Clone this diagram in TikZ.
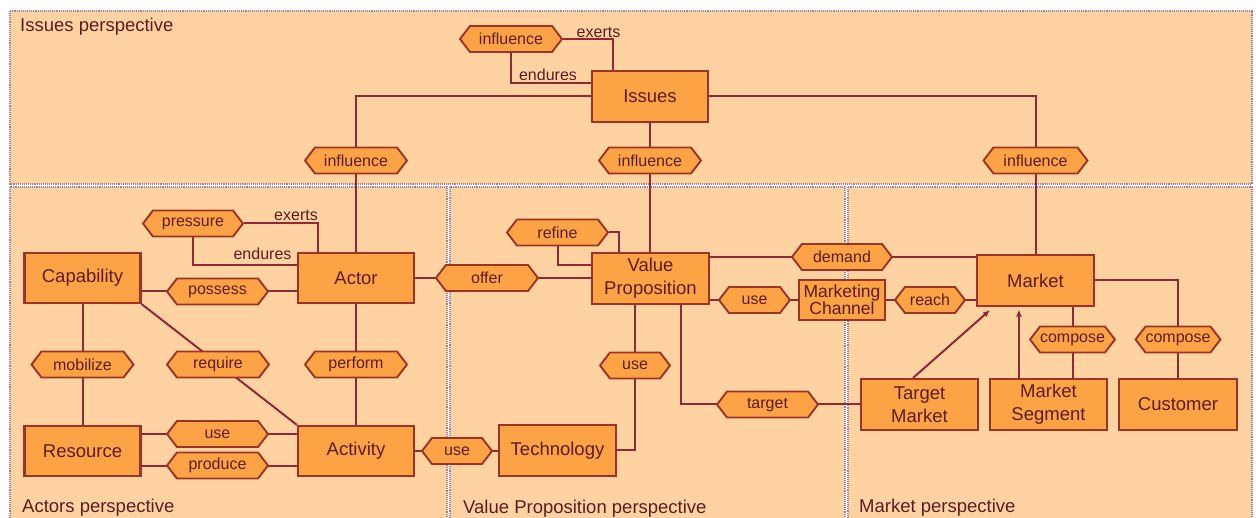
\documentclass[tikz,border=0pt]{standalone}
\usepackage{fontspec}
\setmainfont{Liberation Sans}
\usetikzlibrary{shapes.symbols,arrows.meta}
\definecolor{pane}{HTML}{FED3A1}
\definecolor{boxfill}{HTML}{FCA445}
\definecolor{boxline}{HTML}{9C3328}
\definecolor{wire}{HTML}{8C2A38}
\definecolor{ink}{HTML}{5E1B24}
\definecolor{frameline}{HTML}{A07C96}
\pgfdeclarelayer{panes}
\pgfdeclarelayer{wires}
\pgfsetlayers{panes,wires,main}
\tikzset{
  entity/.style={draw=boxline, fill=boxfill, line width=2.1pt, rectangle,
    minimum width=116pt, minimum height=50pt, inner sep=0pt, text=ink,
    font=\fontsize{18.5}{23}\selectfont, align=center},
  relation/.style={draw=boxline, fill=boxfill, line width=1.9pt, shape=signal,
    signal to=west and east, signal pointer angle=105,
    minimum width=#1, minimum height=26pt, inner sep=0pt, text=ink,
    font=\fontsize{16}{19}\selectfont},
  relation/.default=101pt,
  role/.style={text=ink, font=\fontsize{16}{19}\selectfont, inner sep=0pt, anchor=base},
  panetitle/.style={text=ink, font=\fontsize{18.5}{22}\selectfont, inner sep=0pt, anchor=base west},
  pane/.style={fill=pane, draw=frameline, line width=1.1pt, densely dotted},
  link/.style={draw=wire, line width=2pt},
}
\begin{document}
\begin{tikzpicture}[x=1pt,y=-1pt]
\useasboundingbox (0,0) rectangle (1256,518);

% perspective panes
\begin{pgfonlayer}{panes}
  \fill[white] (0,0) rectangle (1256,518);
  \path[pane] (10,11) rectangle (1252,184);
  \path[pane] (10,187) rectangle (447,525);
  \path[pane] (450,187) rectangle (845,525);
  \path[pane] (848,187) rectangle (1252,525);
\end{pgfonlayer}
\node[panetitle] (tIssues) at (20,32) {Issues perspective};
\node[panetitle] (tActors) at (22,512) {Actors perspective};
\node[panetitle] (tValue) at (463,513) {Value Proposition perspective};
\node[panetitle] (tMarket) at (859,512) {Market perspective};

% entities
\node[entity, minimum height=51pt] (issues) at (650,96.5) {Issues};
\node[entity] (actor) at (356,278) {Actor};
\node[entity] (cap) at (82.5,278) {Capability};
\node[entity] (res) at (82.5,451) {Resource};
\node[entity] (act) at (356,451) {Activity};
\node[entity, minimum width=117pt, minimum height=51pt] (tech) at (557.5,450.5) {Technology};
\node[entity, minimum width=117pt, minimum height=51pt] (vp) at (650.5,278.5) {Value\\Proposition};
\node[entity, minimum width=86pt, minimum height=40pt, font=\fontsize{17.5}{17}\selectfont] (mc) at (842,300) {Marketing\\Channel};
\node[entity, minimum width=117pt, minimum height=51pt] (market) at (1035.5,280.5) {Market};
\node[entity, minimum width=117pt, minimum height=51pt] (tm) at (919.5,404.5) {Target\\Market};
\node[entity, minimum width=117pt, minimum height=51pt] (ms) at (1048.5,404.5) {Market\\Segment};
\node[entity, minimum width=118pt, minimum height=51pt] (cust) at (1178,404.5) {Customer};

% relations
\node[relation=102pt] (infTop) at (511,39) {influence};
\node[relation=102pt] (infL) at (356,160.5) {influence};
\node[relation=102pt] (infM) at (650,160.5) {influence};
\node[relation=104pt] (infR) at (1035.5,160.5) {influence};
\node[relation=100pt] (pressure) at (193,223.5) {pressure};
\node[relation] (possess) at (217.5,291.5) {possess};
\node[relation=102pt] (mobilize) at (82.5,364.5) {mobilize};
\node[relation=102pt] (require) at (218,364.5) {require};
\node[relation=102pt] (perform) at (356,364.5) {perform};
\node[relation] (useA) at (217.5,434) {use};
\node[relation] (produce) at (217.5,465.5) {produce};
\node[relation=102pt] (offer) at (487,278) {offer};
\node[relation=70pt] (useT) at (457,451) {use};
\node[relation] (refine) at (557.5,232.5) {refine};
\node[relation=70pt] (useV) at (635,365.5) {use};
\node[relation] (target) at (767.5,404.5) {target};
\node[relation=100pt] (demand) at (842,257) {demand};
\node[relation=71pt] (useM) at (754.5,300) {use};
\node[relation=70pt] (reach) at (930,300) {reach};
\node[relation=83pt] (comp1) at (1072.5,339.5) {compose};
\node[relation=83pt] (comp2) at (1178,339.5) {compose};

% role names
\node[role] (rExIss) at (598.5,37.5) {exerts};
\node[role] (rEnIss) at (548,80.5) {endures};
\node[role] (rExAct) at (296,220.5) {exerts};
\node[role] (rEnAct) at (262.5,260) {endures};

% connectors
\begin{pgfonlayer}{wires}
  \draw[link] (infTop.east) -| ([xshift=-37pt]issues.north);
  \draw[link] (infTop.south) |- ([yshift=13.5pt]issues.west);
  \draw[link] (issues.west) -| (actor.north);
  \draw[link] (issues.south) -- (issues.south |- vp.north);
  \draw[link] (issues.east) -| (market.north);

  \draw[link] (pressure.east) -| ([xshift=-38pt]actor.north);
  \draw[link] (pressure.south) |- ([yshift=13pt]actor.west);
  \draw[link] ([yshift=-13pt]cap.east) -- ([yshift=-13pt]actor.west);
  \draw[link] (cap.south) -- (res.north);
  \draw[link] (cap.south east) -- (act.north west);
  \draw[link] (actor.south) -- (act.north);
  \draw[link] ([yshift=17pt]res.east) -- ([yshift=17pt]act.west);
  \draw[link] ([yshift=-14.5pt]res.east) -- ([yshift=-14.5pt]act.west);
  \draw[link] (actor.east) -- (actor.east -| vp.west);
  \draw[link] (act.east) -- (act.east -| tech.west);

  \draw[link] (refine.east) -| ([xshift=-31.5pt]vp.north);
  \draw[link] (refine.south) |- ([yshift=13.5pt]vp.west);
  \draw[link] ([xshift=-15.5pt]vp.south) |- (tech.east);
  \draw[link] ([xshift=30.5pt]vp.south) |- (tm.west);
  \draw[link] ([yshift=21.5pt]vp.east) -- ([yshift=21.5pt]vp.east -| market.west);
  \draw[link] (mc.west -| vp.east) -- (mc.west);
  \draw[link] (mc.east) -- (mc.east -| market.west);

  \draw[link] (market.east) -| (cust.north);
  \draw[link] (comp1 |- market.south) -- (comp1 |- ms.north);
  \draw[link, -{Latex[length=7pt,width=6pt]}] ([xshift=-6.5pt]tm.north) -- ([xshift=-45.5pt,yshift=-3pt]market.south);
  \draw[link, -{Latex[length=7pt,width=6pt]}] ([xshift=-29.5pt]ms.north) -- ([xshift=-16.5pt,yshift=-2.5pt]market.south);
\end{pgfonlayer}
\end{tikzpicture}
\end{document}
